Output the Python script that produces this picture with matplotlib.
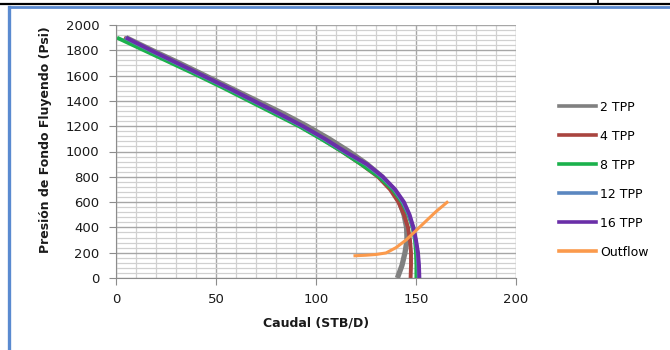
import matplotlib
matplotlib.use("Agg")
import matplotlib.pyplot as plt
from matplotlib.lines import Line2D
from matplotlib.ticker import MultipleLocator

# flowing bottom-hole pressure (psi) shared by the IPR curves
pwf = [1900, 1800, 1700, 1600, 1500, 1400, 1300, 1200, 1100, 1000,
       900, 800, 700, 600, 500, 400, 300, 200, 100, 0]

# rates (STB/D) for each shot density
q_2tpp = [5, 18, 31.5, 44.5, 57.5, 70.5, 83.5, 95.5, 106.5, 116.5,
          125.5, 133, 138, 141.8, 144, 145.3, 145.5, 144.5, 143, 140.7]
q_4tpp = [4, 16.5, 29.5, 42.5, 55, 67.5, 80, 92, 103, 113,
          122.5, 131, 137, 141.2, 144, 146, 147, 147.5, 147.5, 147.3]
q_8tpp = [0.5, 14, 27.5, 41, 54, 66.5, 79, 91.5, 102.5, 113,
          122.5, 131.5, 138.3, 143, 146.2, 148.3, 149.5, 150, 150.2, 150.2]
q_12tpp = [4.5, 17, 30, 43, 56, 68.5, 81, 93, 104, 114,
           125, 133, 139.2, 143.5, 146.5, 148.5, 149.8, 150.8, 151.2, 151.4]
q_16tpp = [5, 17.5, 30.5, 43.5, 56.5, 69, 81.5, 93.5, 104.5, 114.5,
           125.5, 133.5, 139.6, 144, 146.8, 148.7, 150, 151, 151.5, 151.7]

# outflow (tubing) curve
q_out = [119.5, 125, 130, 135, 140, 145, 150, 155, 160, 165.5]
p_out = [176, 180, 186, 198, 240, 300, 375, 450, 525, 598]

labels = ['2 TPP', '4 TPP', '8 TPP', '12 TPP', '16 TPP', 'Outflow']
colors = ['#808080', '#a9443f', '#1bb14c', '#5b87c0', '#6a2fa8', '#fb9a4c']

fig = plt.figure(figsize=(6.7, 3.5), dpi=100)
ax = fig.add_axes([116/670, 72/350, 400/670, 253/350])

series = [q_2tpp, q_4tpp, q_8tpp, q_12tpp, q_16tpp]
widths = [3.8, 2.8, 2.8, 2.8, 2.8]
for q, lab, c, lw in zip(series, labels[:5], colors[:5], widths):
    ax.plot(q, pwf, color=c, lw=lw, label=lab, solid_capstyle='butt')
ax.plot(q_out, p_out, color=colors[5], lw=2.2, label=labels[5])

ax.set_xlim(0, 200)
ax.set_ylim(0, 2000)
ax.xaxis.set_major_locator(MultipleLocator(50))
ax.xaxis.set_minor_locator(MultipleLocator(10))
ax.yaxis.set_major_locator(MultipleLocator(200))
ax.yaxis.set_minor_locator(MultipleLocator(40))
ax.grid(which='minor', color='#d0d0d0', lw=0.9)
ax.grid(which='major', color='#a6a6a6', lw=1.0)
ax.set_axisbelow(True)
for s in ['top', 'right']:
    ax.spines[s].set_visible(False)
for s in ['left', 'bottom']:
    ax.spines[s].set_color('#8c8c8c')
ax.tick_params(which='major', length=5, color='#8c8c8c', labelsize=9.5,
               labelcolor='#1a1a1a')
ax.tick_params(axis='x', which='major', pad=6)
ax.tick_params(axis='y', which='major', pad=7)
ax.tick_params(which='minor', length=0)

ax.set_xlabel('Caudal (STB/D)', fontsize=9, fontweight='bold', color='#1a1a1a')
ax.set_ylabel('Presión de Fondo Fluyendo (Psi)', fontsize=9,
              fontweight='bold', color='#1a1a1a')
ax.xaxis.set_label_coords(0.5, -0.154)
ax.yaxis.set_label_coords(-0.16, 0.545)

handles = [Line2D([], [], color=c, lw=2.6) for c in colors]
fig.legend(handles, labels, loc='center left', bbox_to_anchor=(0.817, 0.487),
           frameon=False, fontsize=9, handlelength=3.0, handletextpad=0.3,
           labelspacing=1.28)

# page frame remnants around the chart
fig.add_artist(Line2D([0, 1], [1 - 3.5/350, 1 - 3.5/350], color='black', lw=1.6,
                      transform=fig.transFigure))
fig.add_artist(Line2D([598/670, 598/670], [1 - 3.5/350, 1], color='black', lw=1.2,
                      transform=fig.transFigure))
fig.add_artist(Line2D([8.5/670, 1], [1 - 7/350, 1 - 7/350], color='#5a8ad0', lw=2.0,
                      transform=fig.transFigure))
fig.add_artist(Line2D([8.5/670, 8.5/670], [0, 1 - 7/350], color='#5a8ad0', lw=2.4,
                      transform=fig.transFigure))

fig.savefig('out.png', dpi=100)
